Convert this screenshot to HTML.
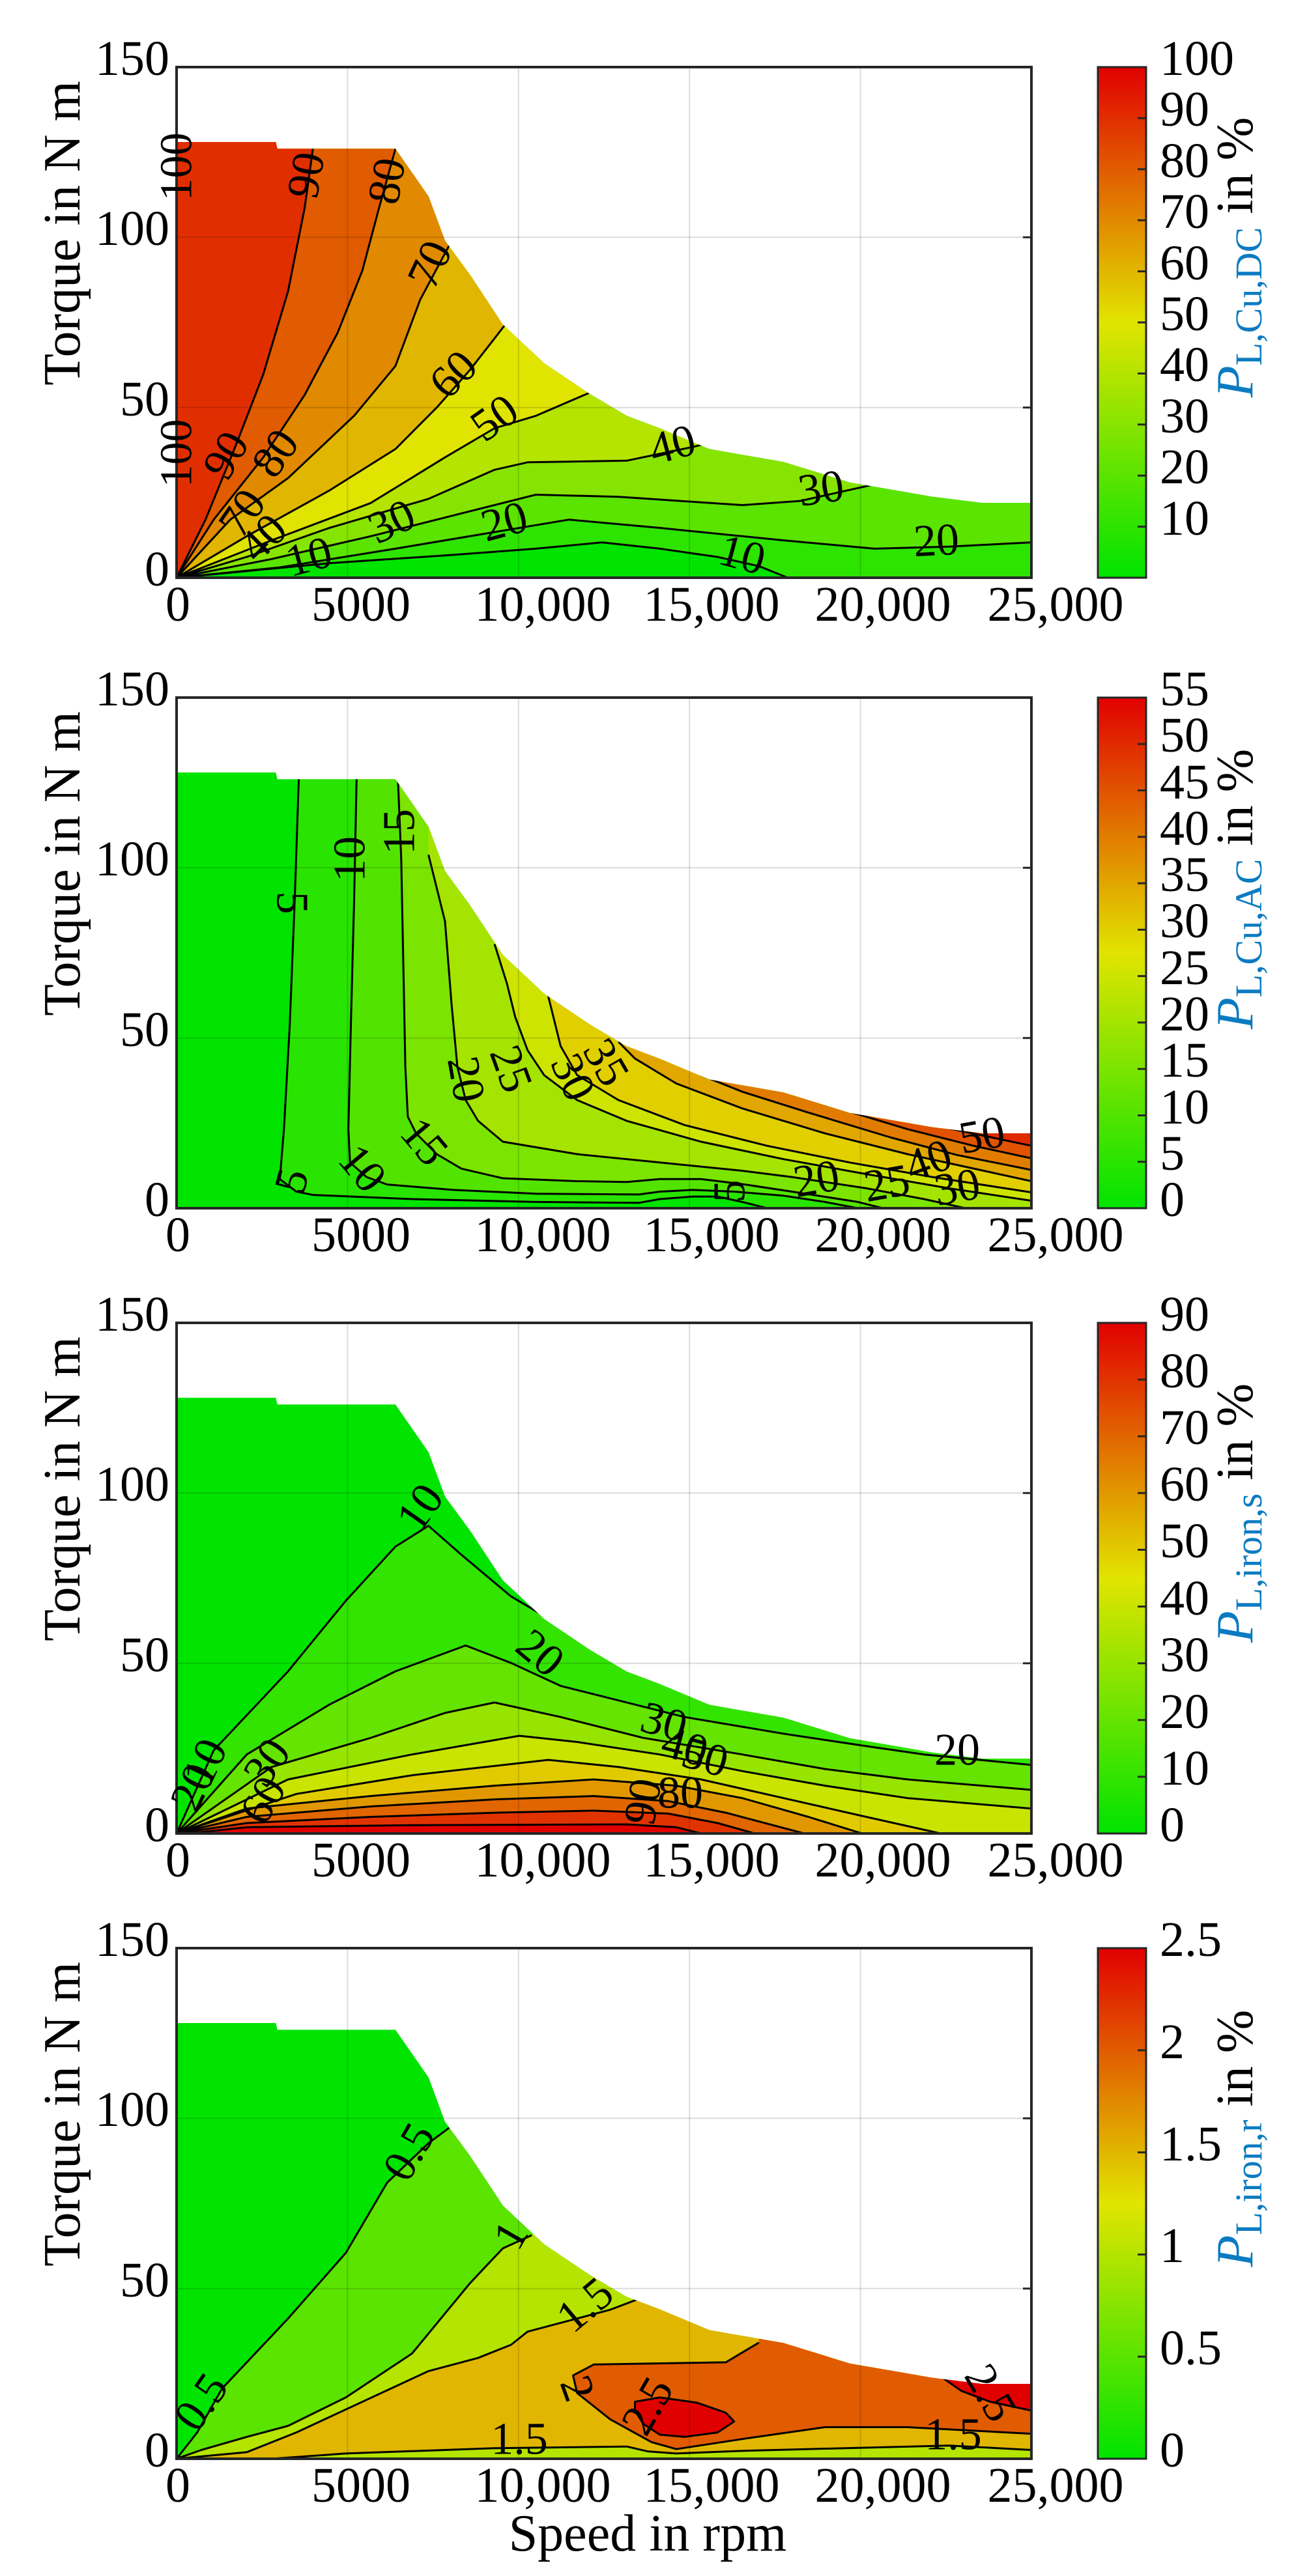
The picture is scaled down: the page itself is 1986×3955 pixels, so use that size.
<!DOCTYPE html>
<html><head><meta charset="utf-8">
<style>
html,body{margin:0;padding:0;background:#fff;}
svg{display:block;}
text{font-family:"Liberation Serif",serif;fill:#000;}
.tk{font-size:76px;}
.cl{font-size:70px;}
.lab{font-size:80px;}
</style></head>
<body>
<svg xmlns="http://www.w3.org/2000/svg" width="1986" height="3955" viewBox="0 0 1986 3955">
<defs>
<clipPath id="env" clipPathUnits="userSpaceOnUse"><polygon id="envpoly" points="0,0"/></clipPath>
<linearGradient id="cb" x1="0" y1="1" x2="0" y2="0">
<stop offset="0" stop-color="rgb(0,228,0)"/><stop offset="0.5" stop-color="rgb(225,228,0)"/><stop offset="1" stop-color="rgb(225,0,0)"/>
</linearGradient>
</defs>

<!-- PANEL 1 -->
<g transform="translate(0,0)">
<g id="f1"></g>
<g stroke="rgba(0,0,0,0.14)" stroke-width="2"><line x1="533.4" y1="103" x2="533.4" y2="887"/><line x1="795.8" y1="103" x2="795.8" y2="887"/><line x1="1058.2" y1="103" x2="1058.2" y2="887"/><line x1="1320.6" y1="103" x2="1320.6" y2="887"/><line x1="271" y1="364.3" x2="1583" y2="364.3"/><line x1="271" y1="625.7" x2="1583" y2="625.7"/></g>
<g stroke="#262626" stroke-width="3"><line x1="1570" y1="364.3" x2="1583" y2="364.3"/><line x1="1570" y1="625.7" x2="1583" y2="625.7"/></g>
<rect x="271" y="103" width="1312" height="784" fill="none" stroke="#262626" stroke-width="4"/>
<g class="tk" text-anchor="end"><text x="260" y="899">0</text><text x="260" y="638">50</text><text x="260" y="376">100</text><text x="260" y="115">150</text></g>
<g class="tk" text-anchor="middle"><text x="273" y="953">0</text><text x="554" y="953">5000</text><text x="833" y="953">10,000</text><text x="1092" y="953">15,000</text><text x="1355" y="953">20,000</text><text x="1620" y="953">25,000</text></g>
<text class="lab" text-anchor="middle" transform="translate(122,358) rotate(-90)">Torque in N m</text>
<rect x="1685" y="103" width="74" height="784" fill="url(#cb)" stroke="#262626" stroke-width="3"/>
<g stroke="#262626" stroke-width="3"><line x1="1746" x2="1759" y1="808.6" y2="808.6"/><line x1="1746" x2="1759" y1="730.2" y2="730.2"/><line x1="1746" x2="1759" y1="651.8" y2="651.8"/><line x1="1746" x2="1759" y1="573.4" y2="573.4"/><line x1="1746" x2="1759" y1="495" y2="495"/><line x1="1746" x2="1759" y1="416.6" y2="416.6"/><line x1="1746" x2="1759" y1="338.2" y2="338.2"/><line x1="1746" x2="1759" y1="259.8" y2="259.8"/><line x1="1746" x2="1759" y1="181.4" y2="181.4"/></g>
<g class="tk"><text x="1780" y="821">10</text><text x="1780" y="742">20</text><text x="1780" y="664">30</text><text x="1780" y="585">40</text><text x="1780" y="507">50</text><text x="1780" y="429">60</text><text x="1780" y="350">70</text><text x="1780" y="272">80</text><text x="1780" y="193">90</text><text x="1780" y="115">100</text></g>
<text class="lab" text-anchor="middle" transform="translate(1922,395) rotate(-90)"><tspan fill="#0b7bc1" font-style="italic">P</tspan><tspan fill="#0b7bc1" font-size="58" dy="14">L,Cu,DC</tspan><tspan dy="-14"> in %</tspan></text>
<g class="cl" text-anchor="middle" dominant-baseline="central">
<text transform="translate(271,256) rotate(-90)">100</text>
<text transform="translate(271,696) rotate(-90)">100</text>
<text transform="translate(470,269) rotate(-80)">90</text>
<text transform="translate(594,278) rotate(-80)">80</text>
<text transform="translate(660,406) rotate(-65)">70</text>
<text transform="translate(696,575) rotate(-45)">60</text>
<text transform="translate(759,642) rotate(-35)">50</text>
<text transform="translate(1032,683) rotate(-15)">40</text>
<text transform="translate(1260,750) rotate(-8)">30</text>
<text transform="translate(1437,830) rotate(-3)">20</text>
<text transform="translate(1139,852) rotate(15)">10</text>
<text transform="translate(601,801) rotate(-25)">30</text>
<text transform="translate(774,801) rotate(-15)">20</text>
<text transform="translate(347,699) rotate(-60)">90</text>
<text transform="translate(423,696) rotate(-55)">80</text>
<text transform="translate(372,788) rotate(-55)">70</text>
<text transform="translate(404,826) rotate(-45)">40</text>
<text transform="translate(474,855) rotate(-15)">10</text>
</g>
</g>

<!-- PANEL 2 -->
<g transform="translate(0,968)">
<g id="f2"></g>
<g stroke="rgba(0,0,0,0.14)" stroke-width="2"><line x1="533.4" y1="103" x2="533.4" y2="887"/><line x1="795.8" y1="103" x2="795.8" y2="887"/><line x1="1058.2" y1="103" x2="1058.2" y2="887"/><line x1="1320.6" y1="103" x2="1320.6" y2="887"/><line x1="271" y1="364.3" x2="1583" y2="364.3"/><line x1="271" y1="625.7" x2="1583" y2="625.7"/></g>
<g stroke="#262626" stroke-width="3"><line x1="1570" y1="364.3" x2="1583" y2="364.3"/><line x1="1570" y1="625.7" x2="1583" y2="625.7"/></g>
<rect x="271" y="103" width="1312" height="784" fill="none" stroke="#262626" stroke-width="4"/>
<g class="tk" text-anchor="end"><text x="260" y="899">0</text><text x="260" y="638">50</text><text x="260" y="376">100</text><text x="260" y="115">150</text></g>
<g class="tk" text-anchor="middle"><text x="273" y="953">0</text><text x="554" y="953">5000</text><text x="833" y="953">10,000</text><text x="1092" y="953">15,000</text><text x="1355" y="953">20,000</text><text x="1620" y="953">25,000</text></g>
<text class="lab" text-anchor="middle" transform="translate(122,358) rotate(-90)">Torque in N m</text>
<rect x="1685" y="103" width="74" height="784" fill="url(#cb)" stroke="#262626" stroke-width="3"/>
<g stroke="#262626" stroke-width="3"><line x1="1746" x2="1759" y1="815.7" y2="815.7"/><line x1="1746" x2="1759" y1="744.5" y2="744.5"/><line x1="1746" x2="1759" y1="673.2" y2="673.2"/><line x1="1746" x2="1759" y1="601.9" y2="601.9"/><line x1="1746" x2="1759" y1="530.6" y2="530.6"/><line x1="1746" x2="1759" y1="459.4" y2="459.4"/><line x1="1746" x2="1759" y1="388.1" y2="388.1"/><line x1="1746" x2="1759" y1="316.8" y2="316.8"/><line x1="1746" x2="1759" y1="245.5" y2="245.5"/><line x1="1746" x2="1759" y1="174.3" y2="174.3"/></g>
<g class="tk"><text x="1780" y="899">0</text><text x="1780" y="828">5</text><text x="1780" y="757">10</text><text x="1780" y="685">15</text><text x="1780" y="614">20</text><text x="1780" y="543">25</text><text x="1780" y="471">30</text><text x="1780" y="400">35</text><text x="1780" y="329">40</text><text x="1780" y="258">45</text><text x="1780" y="186">50</text><text x="1780" y="115">55</text></g>
<text class="lab" text-anchor="middle" transform="translate(1922,397) rotate(-90)"><tspan fill="#0b7bc1" font-style="italic">P</tspan><tspan fill="#0b7bc1" font-size="58" dy="14">L,Cu,AC</tspan><tspan dy="-14"> in %</tspan></text>
<g class="cl" text-anchor="middle" dominant-baseline="central">
<text transform="translate(448,418) rotate(90)">5</text>
<text transform="translate(537,351) rotate(-90)">10</text>
<text transform="translate(613,309) rotate(-90)">15</text>
<text transform="translate(715,689) rotate(80)">20</text>
<text transform="translate(784,673) rotate(70)">25</text>
<text transform="translate(879,686) rotate(65)">30</text>
<text transform="translate(930,663) rotate(60)">35</text>
<text transform="translate(448,845) rotate(-75)">5</text>
<text transform="translate(556,826) rotate(50)">10</text>
<text transform="translate(651,785) rotate(50)">15</text>
<text transform="translate(1120,861) rotate(-90)">5</text>
<text transform="translate(1253,842) rotate(-10)">20</text>
<text transform="translate(1361,849) rotate(-10)">25</text>
<text transform="translate(1469,855) rotate(-10)">30</text>
<text transform="translate(1425,814) rotate(-20)">40</text>
<text transform="translate(1507,775) rotate(-10)">50</text>
</g>
</g>

<!-- PANEL 3 -->
<g transform="translate(0,1928)">
<g id="f3"></g>
<g stroke="rgba(0,0,0,0.14)" stroke-width="2"><line x1="533.4" y1="103" x2="533.4" y2="887"/><line x1="795.8" y1="103" x2="795.8" y2="887"/><line x1="1058.2" y1="103" x2="1058.2" y2="887"/><line x1="1320.6" y1="103" x2="1320.6" y2="887"/><line x1="271" y1="364.3" x2="1583" y2="364.3"/><line x1="271" y1="625.7" x2="1583" y2="625.7"/></g>
<g stroke="#262626" stroke-width="3"><line x1="1570" y1="364.3" x2="1583" y2="364.3"/><line x1="1570" y1="625.7" x2="1583" y2="625.7"/></g>
<rect x="271" y="103" width="1312" height="784" fill="none" stroke="#262626" stroke-width="4"/>
<g class="tk" text-anchor="end"><text x="260" y="899">0</text><text x="260" y="638">50</text><text x="260" y="376">100</text><text x="260" y="115">150</text></g>
<g class="tk" text-anchor="middle"><text x="273" y="953">0</text><text x="554" y="953">5000</text><text x="833" y="953">10,000</text><text x="1092" y="953">15,000</text><text x="1355" y="953">20,000</text><text x="1620" y="953">25,000</text></g>
<text class="lab" text-anchor="middle" transform="translate(122,358) rotate(-90)">Torque in N m</text>
<rect x="1685" y="103" width="74" height="784" fill="url(#cb)" stroke="#262626" stroke-width="3"/>
<g stroke="#262626" stroke-width="3"><line x1="1746" x2="1759" y1="799.9" y2="799.9"/><line x1="1746" x2="1759" y1="712.8" y2="712.8"/><line x1="1746" x2="1759" y1="625.7" y2="625.7"/><line x1="1746" x2="1759" y1="538.6" y2="538.6"/><line x1="1746" x2="1759" y1="451.4" y2="451.4"/><line x1="1746" x2="1759" y1="364.3" y2="364.3"/><line x1="1746" x2="1759" y1="277.2" y2="277.2"/><line x1="1746" x2="1759" y1="190.1" y2="190.1"/></g>
<g class="tk"><text x="1780" y="899">0</text><text x="1780" y="812">10</text><text x="1780" y="725">20</text><text x="1780" y="638">30</text><text x="1780" y="551">40</text><text x="1780" y="463">50</text><text x="1780" y="376">60</text><text x="1780" y="289">70</text><text x="1780" y="202">80</text><text x="1780" y="115">90</text></g>
<text class="lab" text-anchor="middle" transform="translate(1922,395) rotate(-90)"><tspan fill="#0b7bc1" font-style="italic">P</tspan><tspan fill="#0b7bc1" font-size="58" dy="14">L,iron,s</tspan><tspan dy="-14"> in %</tspan></text>
<g class="cl" text-anchor="middle" dominant-baseline="central">
<text transform="translate(645,387) rotate(-55)">10</text>
<text transform="translate(829,610) rotate(40)">20</text>
<text transform="translate(1019,716) rotate(15)">30</text>
<text transform="translate(1051,754) rotate(15)">40</text>
<text transform="translate(1082,770) rotate(15)">50</text>
<text transform="translate(1044,825)">80</text>
<text transform="translate(987,838) rotate(-80)">90</text>
<text transform="translate(1469,759)">20</text>
<text transform="translate(410,778) rotate(-55)">30</text>
<text transform="translate(404,836) rotate(-60)">60</text>
<text transform="translate(315,778) rotate(-65)">10</text>
<text transform="translate(296,816) rotate(-65)">20</text>
</g>
</g>

<!-- PANEL 4 -->
<g transform="translate(0,2888)">
<g id="f4"></g>
<g stroke="rgba(0,0,0,0.14)" stroke-width="2"><line x1="533.4" y1="103" x2="533.4" y2="887"/><line x1="795.8" y1="103" x2="795.8" y2="887"/><line x1="1058.2" y1="103" x2="1058.2" y2="887"/><line x1="1320.6" y1="103" x2="1320.6" y2="887"/><line x1="271" y1="364.3" x2="1583" y2="364.3"/><line x1="271" y1="625.7" x2="1583" y2="625.7"/></g>
<g stroke="#262626" stroke-width="3"><line x1="1570" y1="364.3" x2="1583" y2="364.3"/><line x1="1570" y1="625.7" x2="1583" y2="625.7"/></g>
<rect x="271" y="103" width="1312" height="784" fill="none" stroke="#262626" stroke-width="4"/>
<g class="tk" text-anchor="end"><text x="260" y="899">0</text><text x="260" y="638">50</text><text x="260" y="376">100</text><text x="260" y="115">150</text></g>
<g class="tk" text-anchor="middle"><text x="273" y="953">0</text><text x="554" y="953">5000</text><text x="833" y="953">10,000</text><text x="1092" y="953">15,000</text><text x="1355" y="953">20,000</text><text x="1620" y="953">25,000</text></g>
<text class="lab" text-anchor="middle" transform="translate(122,358) rotate(-90)">Torque in N m</text>
<text class="lab" text-anchor="middle" x="994" y="1028">Speed in rpm</text>
<rect x="1685" y="103" width="74" height="784" fill="url(#cb)" stroke="#262626" stroke-width="3"/>
<g stroke="#262626" stroke-width="3"><line x1="1746" x2="1759" y1="730.2" y2="730.2"/><line x1="1746" x2="1759" y1="573.4" y2="573.4"/><line x1="1746" x2="1759" y1="416.6" y2="416.6"/><line x1="1746" x2="1759" y1="259.8" y2="259.8"/></g>
<g class="tk"><text x="1780" y="899">0</text><text x="1780" y="742">0.5</text><text x="1780" y="585">1</text><text x="1780" y="429">1.5</text><text x="1780" y="272">2</text><text x="1780" y="115">2.5</text></g>
<text class="lab" text-anchor="middle" transform="translate(1922,395) rotate(-90)"><tspan fill="#0b7bc1" font-style="italic">P</tspan><tspan fill="#0b7bc1" font-size="58" dy="14">L,iron,r</tspan><tspan dy="-14"> in %</tspan></text>
<g class="cl" text-anchor="middle" dominant-baseline="central">
<text transform="translate(628,416) rotate(-60)">0.5</text>
<text transform="translate(309,800) rotate(-55)">0.5</text>
<text transform="translate(784,544) rotate(-60)">1</text>
<text transform="translate(898,651) rotate(-40)">1.5</text>
<text transform="translate(886,779) rotate(70)">2</text>
<text transform="translate(994,806) rotate(-60)">2.5</text>
<text transform="translate(797,857)">1.5</text>
<text transform="translate(1463,850)">1.5</text>
<text transform="translate(1520,786) rotate(60)">2.5</text>
</g>
</g>

<script>
(function(){
var NS="http://www.w3.org/2000/svg";
function cm(t){return "rgb("+Math.round(225*Math.min(1,2*t))+","+Math.round(228*Math.min(1,2*(1-t)))+",0)";}
var env=[[0,128],[2900,128],[2950,126],[6400,126],[7370,112],[7850,99],[8580,89],[9540,74.4],[10750,63],[12080,54],[13160,47.6],[14130,43.9],[15580,37.8],[17750,34],[19690,28],[22100,23.8],[23550,22],[25000,22],[25000,0],[0,0]];
var ep=env.map(function(p){return (271+p[0]/25000*1312).toFixed(1)+","+(887-p[1]/150*784).toFixed(1);}).join(" ");
document.getElementById("envpoly").setAttribute("points",ep);
var P=[
{id:"f1",zt:160,zb:1390,cmax:100,L:[
{v:10,p:[[215,1390],[400,1355],[550,1335],[650,1320],[730,1305],[800,1320],[870,1340],[920,1362],[955,1390]],c:[[1250,1390],[1250,160],[215,160]]},
{v:20,p:[[215,1390],[340,1365],[480,1320],[600,1280],[690,1250],[800,1270],[950,1300],[1060,1320],[1150,1315],[1250,1305]],c:[[1250,160],[215,160]]},
{v:30,p:[[215,1390],[330,1345],[450,1290],[560,1235],[650,1190],[750,1195],[900,1215],[970,1205],[1060,1165],[1090,1150]],c:[[1090,160],[215,160]]},
{v:40,p:[[215,1390],[300,1340],[400,1270],[520,1200],[600,1130],[640,1112],[760,1108],[840,1075],[870,1060]],c:[[870,160],[215,160]]},
{v:50,p:[[215,1390],[330,1300],[450,1210],[540,1100],[600,1030],[650,1000],[720,940]],c:[[720,160],[215,160]]},
{v:60,p:[[215,1390],[300,1290],[400,1180],[480,1080],[530,980],[570,890],[615,775]],c:[[615,160],[215,160]]},
{v:70,p:[[215,1390],[280,1250],[350,1150],[430,1000],[480,880],[510,720],[545,590]],c:[[545,160],[215,160]]},
{v:80,p:[[215,1390],[260,1250],[320,1100],[370,950],[410,800],[440,650],[460,500],[480,357]],c:[[480,160],[215,160]]},
{v:90,p:[[215,1390],[250,1250],[285,1080],[320,900],[350,700],[370,500],[380,357]],c:[[380,160],[215,160]]}
]},
{id:"f2",zt:112,zb:1340,cmax:55,L:[
{v:5,p:[[363,307],[358,600],[352,900],[345,1150],[340,1270],[360,1300],[380,1308],[500,1318],[650,1325],[775,1327],[800,1318],[840,1312],[870,1312],[900,1325],[930,1340]],c:[[1250,1340],[1250,112],[363,112]]},
{v:10,p:[[433,307],[430,600],[426,900],[423,1150],[425,1230],[445,1265],[470,1283],[550,1296],[650,1305],[775,1307],[800,1300],[840,1296],[890,1300],[950,1310],[1000,1325],[1040,1340]],c:[[1250,1340],[1250,112],[433,112]]},
{v:15,p:[[483,307],[487,500],[490,800],[492,1000],[495,1120],[505,1160],[530,1210],[560,1245],[610,1268],[700,1275],[760,1277],[800,1270],[850,1270],[900,1282],[960,1300],[1040,1325],[1070,1340]],c:[[1250,1340],[1250,112],[483,112]]},
{v:20,p:[[520,490],[540,650],[548,850],[555,1000],[565,1080],[580,1130],[610,1180],[700,1210],[800,1230],[900,1250],[960,1265],[1050,1292],[1120,1318],[1170,1340]],c:[[1250,1340],[1250,112],[520,112]]},
{v:25,p:[[600,705],[615,800],[625,880],[640,960],[660,1020],[700,1080],[760,1130],[850,1180],[950,1222],[1050,1258],[1150,1292],[1250,1322]],c:[[1250,112],[600,112]]},
{v:30,p:[[665,830],[680,950],[700,1020],[750,1080],[830,1140],[930,1190],[1030,1230],[1130,1265],[1250,1302]],c:[[1250,112],[665,112]]},
{v:35,p:[[750,940],[770,980],[820,1040],[900,1100],[1000,1160],[1100,1210],[1250,1275]],c:[[1250,112],[750,112]]},
{v:40,p:[[850,1020],[900,1060],[980,1110],[1080,1170],[1160,1212],[1250,1248]],c:[[1250,112],[850,112]]},
{v:45,p:[[1000,1090],[1100,1150],[1180,1190],[1250,1220]],c:[[1250,112],[1000,112]]},
{v:50,p:[[1080,1120],[1150,1148],[1250,1190]],c:[[1250,112],[1080,112]]}
]},
{id:"f3",zt:112,zb:1340,cmax:90,L:[
{v:10,p:[[215,1340],[260,1140],[350,950],[420,780],[480,650],[520,600],[560,670],[620,770],[680,840],[720,900]],c:[[1250,112],[1250,1340]]},
{v:20,p:[[215,1340],[300,1150],[400,1030],[480,950],[565,888],[620,930],[680,985],[750,1020],[830,1060],[950,1100],[1050,1130],[1120,1150],[1250,1175]],c:[[1250,1340]]},
{v:30,p:[[215,1340],[330,1180],[450,1110],[540,1050],[600,1025],[680,1060],[780,1110],[900,1150],[1000,1185],[1100,1210],[1250,1235]],c:[[1250,1340]]},
{v:40,p:[[215,1340],[350,1210],[500,1150],[630,1105],[700,1120],[800,1150],[900,1190],[1000,1225],[1100,1255],[1250,1280]],c:[[1250,1340]]},
{v:50,p:[[215,1340],[360,1245],[500,1200],[665,1163],[750,1180],[850,1210],[950,1255],[1050,1300],[1140,1340]],c:[]},
{v:60,p:[[215,1340],[300,1280],[450,1250],[600,1225],[720,1210],[820,1225],[900,1255],[980,1300],[1045,1340]],c:[]},
{v:70,p:[[215,1340],[300,1300],[450,1275],[600,1258],[720,1250],[810,1262],[880,1290],[975,1340]],c:[]},
{v:80,p:[[215,1340],[300,1315],[450,1300],[600,1290],[720,1285],[810,1292],[870,1315],[915,1340]],c:[]},
{v:90,p:[[230,1340],[300,1325],[500,1320],[760,1318],[820,1325],[850,1340]],c:[]}
]},
{id:"f4",zt:135,zb:1300,cmax:2.5,L:[
{v:0.5,p:[[215,1300],[240,1240],[270,1140],[350,980],[420,830],[470,670],[520,580],[545,545]],c:[[1250,135],[1250,1300]]},
{v:1,p:[[215,1300],[245,1280],[300,1250],[350,1225],[420,1160],[500,1060],[570,900],[610,820],[645,790]],c:[[1250,135],[1250,1300]]},
{v:1.5,p:[[215,1300],[300,1285],[360,1240],[440,1170],[520,1100],[580,1070],[620,1040],[640,1010],[670,995],[740,960],[775,935]],c:[[1250,135],[1250,1300]]},
{v:1.0,p:[[330,1300],[420,1288],[600,1276],[760,1272],[785,1283],[820,1288],[900,1282],[1040,1275],[1150,1270],[1250,1280]],c:[[1250,1300]]},
{v:2,p:[[920,1035],[880,1080],[720,1085],[695,1110],[700,1150],[740,1210],[790,1262],[820,1278],[900,1255],[1000,1228],[1100,1228],[1250,1243]],c:[[1250,135],[920,135]]},
{v:2.5,closed:1,p:[[770,1170],[800,1160],[845,1172],[880,1195],[890,1215],[870,1240],[830,1250],[800,1245],[780,1220],[770,1190]],c:[]},
{v:2.5,p:[[1140,1112],[1165,1145],[1200,1170],[1250,1190]],c:[[1250,135],[1140,135]]}
]}
];
P.forEach(function(pn){
  var g=document.getElementById(pn.id);
  function X(x){return (271+(x-215)*1312/1035).toFixed(1);}
  function Y(y){return (103+(y-pn.zt)*784/(pn.zb-pn.zt)).toFixed(1);}
  function pt(a){return X(a[0])+","+Y(a[1]);}
  var bg=document.createElementNS(NS,"polygon");
  bg.setAttribute("points",ep);bg.setAttribute("fill",cm(0));g.appendChild(bg);
  var fg=document.createElementNS(NS,"g");fg.setAttribute("clip-path","url(#env)");g.appendChild(fg);
  var lg=document.createElementNS(NS,"g");lg.setAttribute("clip-path","url(#env)");lg.setAttribute("fill","none");lg.setAttribute("stroke","#000");lg.setAttribute("stroke-width","3");lg.setAttribute("stroke-linejoin","round");g.appendChild(lg);
  pn.L.forEach(function(l){
    var poly=document.createElementNS(NS,"polygon");
    poly.setAttribute("points",l.p.concat(l.c).map(pt).join(" "));
    poly.setAttribute("fill",cm(Math.min(1,l.v/pn.cmax)));
    fg.appendChild(poly);
    var ln=document.createElementNS(NS,l.closed?"polygon":"polyline");
    ln.setAttribute("points",l.p.map(pt).join(" "));
    lg.appendChild(ln);
  });
});
})();
</script>
</svg>
</body></html>
